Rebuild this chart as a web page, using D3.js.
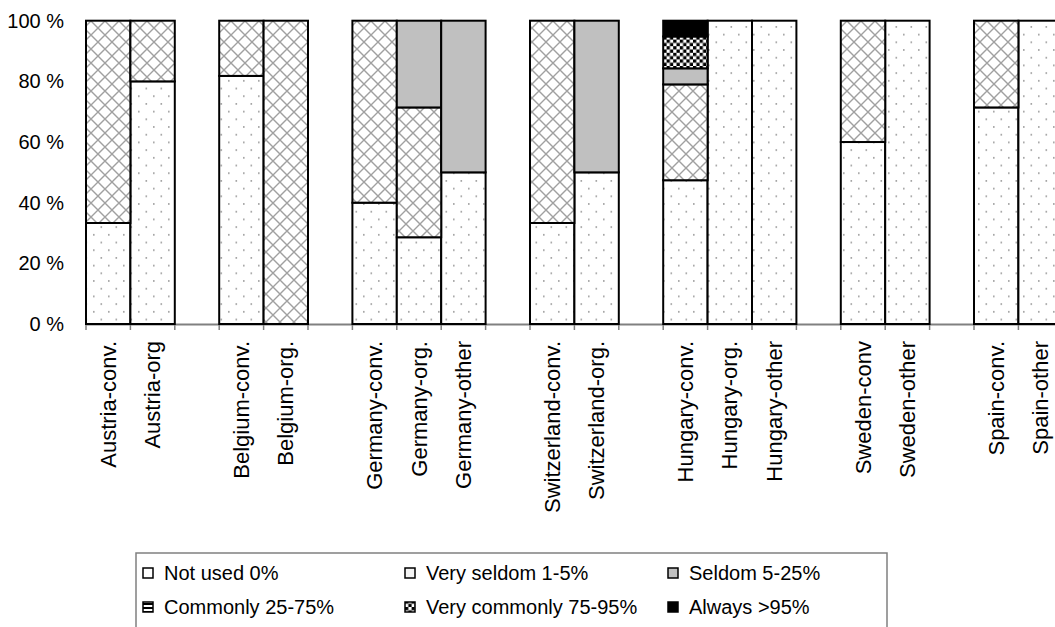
<!DOCTYPE html>
<html>
<head>
<meta charset="utf-8">
<script src="https://cdn.jsdelivr.net/npm/d3@7/dist/d3.min.js"></script>
<style>
  html, body { margin: 0; padding: 0; background: #fff; }
  svg { display: block; font-family: "Liberation Sans", Arial, sans-serif; }
</style>
</head>
<body>
<svg id="chart" width="1055" height="627"></svg>
<script>
// Farm types per country (bars, left to right)
const categories = [
  "Austria-conv.", "Austria-org",
  "Belgium-conv.", "Belgium-org.",
  "Germany-conv.", "Germany-org.", "Germany-other",
  "Switzerland-conv.", "Switzerland-org.",
  "Hungary-conv.", "Hungary-org.", "Hungary-other",
  "Sweden-conv", "Sweden-other",
  "Spain-conv.", "Spain-other"
];
const countries = [
  "Austria", "Austria",
  "Belgium", "Belgium",
  "Germany", "Germany", "Germany",
  "Switzerland", "Switzerland",
  "Hungary", "Hungary", "Hungary",
  "Sweden", "Sweden",
  "Spain", "Spain"
];

// Share of respondents (%) in each usage class
const notUsed      = [33.3, 80, 81.8,   0, 40, 28.6, 50, 33.3, 50, 47.4, 100, 100, 60, 100, 71.4, 100];
const verySeldom   = [66.7, 20, 18.2, 100, 60, 42.8,  0, 66.7,  0, 31.6,   0,   0, 40,   0, 28.6,   0];
const seldom       = [   0,  0,    0,   0,  0, 28.6, 50,    0, 50,  5.3,   0,   0,  0,   0,    0,   0];
const commonly     = [   0,  0,    0,   0,  0,    0,  0,    0,  0,    0,   0,   0,  0,   0,    0,   0];
const veryCommonly = [   0,  0,    0,   0,  0,    0,  0,    0,  0, 10.5,   0,   0,  0,   0,    0,   0];
const always       = [   0,  0,    0,   0,  0,    0,  0,    0,  0,  5.2,   0,   0,  0,   0,    0,   0];

const seriesNames = ["Not used 0%", "Very seldom 1-5%", "Seldom 5-25%",
                     "Commonly 25-75%", "Very commonly 75-95%", "Always >95%"];
const seriesValues = [notUsed, verySeldom, seldom, commonly, veryCommonly, always];
const yTicks = [0, 20, 40, 60, 80, 100];

const svg = d3.select("#chart");

// ---- fill patterns ----
const defs = svg.append("defs");

const dots = defs.append("pattern").attr("id", "pDots")
  .attr("patternUnits", "userSpaceOnUse").attr("width", 15).attr("height", 15.4);
dots.append("rect").attr("width", 15).attr("height", 15.4).attr("fill", "#fff");
dots.append("rect").attr("x", 3).attr("y", 3).attr("width", 1.6).attr("height", 1.6).attr("fill", "#9a9a9a");
dots.append("rect").attr("x", 10.5).attr("y", 10.7).attr("width", 1.6).attr("height", 1.6).attr("fill", "#9a9a9a");

const hatch = defs.append("pattern").attr("id", "pHatch")
  .attr("patternUnits", "userSpaceOnUse").attr("width", 14).attr("height", 14);
hatch.append("rect").attr("width", 14).attr("height", 14).attr("fill", "#fff");
hatch.append("path").attr("d", "M-1,-1L15,15M15,-1L-1,15")
  .attr("stroke", "#a0a0a0").attr("stroke-width", 1.4).attr("fill", "none");

const stripes = defs.append("pattern").attr("id", "pStripes")
  .attr("patternUnits", "userSpaceOnUse").attr("width", 4).attr("height", 4);
stripes.append("rect").attr("width", 4).attr("height", 4).attr("fill", "#fff");
stripes.append("rect").attr("width", 4).attr("height", 2).attr("fill", "#000");

const checker = defs.append("pattern").attr("id", "pChecker")
  .attr("patternUnits", "userSpaceOnUse").attr("width", 6.6).attr("height", 6.6);
checker.append("rect").attr("width", 6.6).attr("height", 6.6).attr("fill", "#fff");
checker.append("rect").attr("x", 0).attr("y", 0).attr("width", 3.3).attr("height", 3.3).attr("fill", "#000");
checker.append("rect").attr("x", 3.3).attr("y", 3.3).attr("width", 3.3).attr("height", 3.3).attr("fill", "#000");

const fills = ["url(#pDots)", "url(#pHatch)", "#c0c0c0", "url(#pStripes)", "url(#pChecker)", "#000"];

// ---- slots: one per bar, an empty slot between countries ----
const slots = [];
categories.forEach((c, i) => {
  if (i > 0 && countries[i] !== countries[i - 1]) slots.push("gap" + i);
  slots.push(c);
});

const x = d3.scaleBand().domain(slots).range([86, 86 + slots.length * 44.4]).padding(0);
const y = d3.scaleLinear().domain([0, 100]).range([324, 20.7]);

// ---- stacked data ----
const rows = categories.map((c, i) => {
  const r = { category: c };
  seriesNames.forEach((s, k) => { r[s] = seriesValues[k][i]; });
  return r;
});
const stacked = d3.stack().keys(seriesNames)(rows);

// x axis line and ticks at every slot boundary
const xAxis = d3.axisBottom(x).tickValues([]).tickSizeOuter(0);
const axG = svg.append("g").attr("transform", "translate(0,324)").call(xAxis);
axG.select(".domain").attr("stroke", "#808080").attr("stroke-width", 2);
axG.selectAll(".slotTick")
  .data(slots.concat(["__end"]))
  .join("line")
  .attr("class", "slotTick")
  .attr("x1", (d, i) => x.range()[0] + i * x.bandwidth())
  .attr("x2", (d, i) => x.range()[0] + i * x.bandwidth())
  .attr("y1", 0).attr("y2", 6)
  .attr("stroke", "#808080").attr("stroke-width", 1.5);

// bars
svg.append("g").selectAll("g")
  .data(stacked)
  .join("g")
  .attr("fill", (d, k) => fills[k])
  .selectAll("rect")
  .data(d => d.filter(p => p[1] - p[0] > 0))
  .join("rect")
  .attr("x", d => x(d.data.category))
  .attr("width", x.bandwidth())
  .attr("y", d => y(d[1]))
  .attr("height", d => y(d[0]) - y(d[1]))
  .attr("stroke", "#000")
  .attr("stroke-width", 2);

// y tick labels
const yAxis = d3.axisLeft(y).tickValues(yTicks).tickSize(0).tickPadding(0)
  .tickFormat(d => d + " %");
const yG = svg.append("g").attr("transform", "translate(64,0)").call(yAxis);
yG.select(".domain").remove();
yG.selectAll("text")
  .attr("font-family", "Liberation Sans, Arial, sans-serif")
  .attr("font-size", 20).attr("fill", "#000");

// category labels, rotated
svg.append("g").selectAll("text")
  .data(categories)
  .join("text")
  .attr("transform", d => `translate(${x(d) + x.bandwidth() / 2 + 7.5},341) rotate(-90)`)
  .attr("text-anchor", "end")
  .attr("font-size", 22)
  .attr("fill", "#000")
  .text(d => d);

// legend
const lg = svg.append("g");
lg.append("path")
  .attr("d", "M136,640V553H887V640")
  .attr("fill", "none").attr("stroke", "#808080").attr("stroke-width", 1.5);

const swatchFill = ["#fff", "#f4f4f4", "#c0c0c0", "url(#pStripes)", "url(#pChecker)", "#000"];
const legendX = [143, 405, 668];
const legendY = [573, 607];
seriesNames.forEach((s, k) => {
  const col = k % 3, row = Math.floor(k / 3);
  const g = lg.append("g").attr("transform", `translate(${legendX[col]},${legendY[row]})`);
  g.append("rect").attr("x", 0).attr("y", -5).attr("width", 10).attr("height", 10)
    .attr("fill", swatchFill[k]).attr("stroke", "#000").attr("stroke-width", 1.5);
  g.append("text").attr("x", 21).attr("y", 0).attr("dy", "0.35em")
    .attr("font-size", 20).attr("fill", "#000").text(s);
});
</script>
</body>
</html>
